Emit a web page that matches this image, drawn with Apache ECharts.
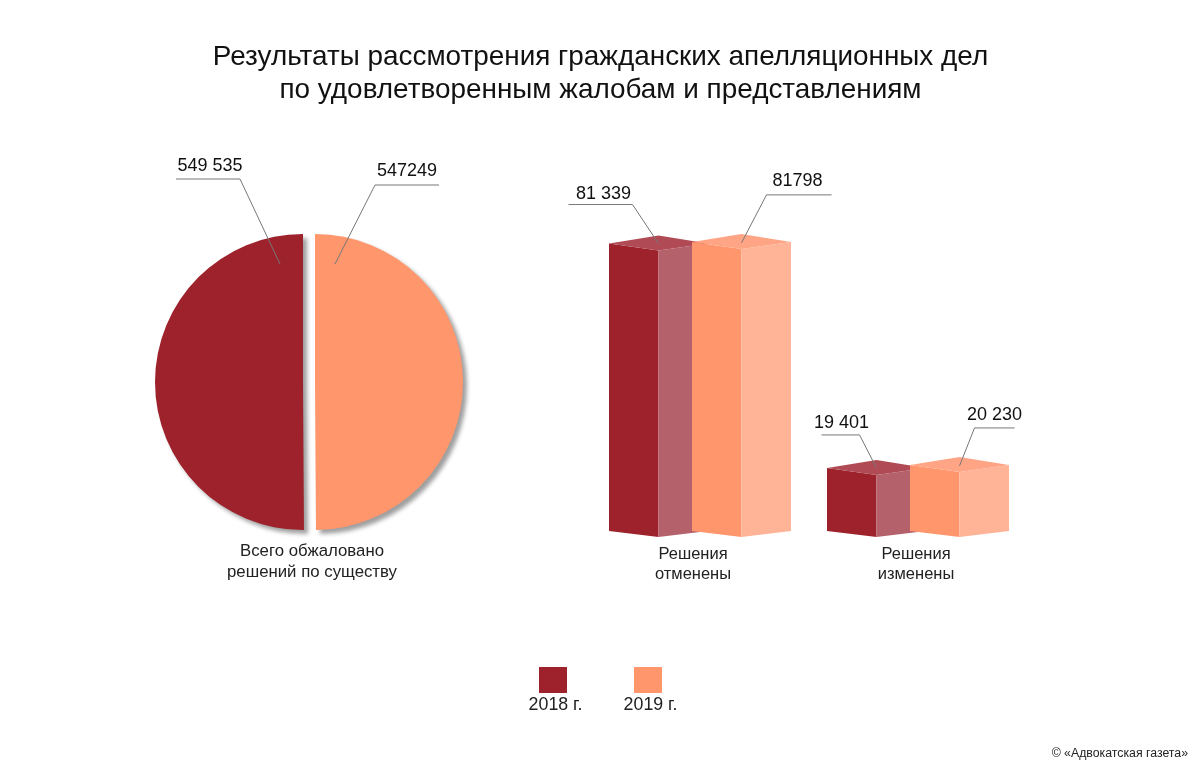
<!DOCTYPE html>
<html><head><meta charset="utf-8">
<style>html,body{margin:0;padding:0;background:#fff}#c{width:1200px;height:771px}</style>
<script src="https://cdn.jsdelivr.net/npm/echarts@6/dist/echarts.min.js"></script>
</head><body><div id="c"></div>
<script>
const seriesNames = ['2018 г.', '2019 г.'];
const pieValues = [549535, 547249];
const pieLabels = ['549 535', '547249'];
const barCategories = ['Решения\nотменены', 'Решения\nизменены'];
const bars2018 = [81339, 19401];
const bars2019 = [81798, 20230];
const barLabels2018 = ['81 339', '19 401'];
const barLabels2019 = ['81798', '20 230'];

const FONT = '"Liberation Sans", Arial, sans-serif';
const palette = [
  {front: '#9E222B', side: '#B5616B', top: '#B04A54'},
  {front: '#FF966C', side: '#FFB397', top: '#FFA585'}
];
// annotation offsets from each bar's front top corner
const leaderOffsets = [
  [{elbow: [-26, -39], tail: [-90, -39], text: [-55, -50], end: [0, 0]},
   {elbow: [-17, -33], tail: [-55, -33], text: [-35, -45], end: [0, 0]}],
  [{elbow: [25, -47], tail: [90, -47], text: [56, -61], end: [0, 1]},
   {elbow: [15, -37], tail: [55, -37], text: [35, -50], end: [0, 1]}]
];
const barLeft = [-91, -8], barW = 99, dropFront = 7, riseBack = 8, dropBase = 6;
const axisMin = 2000, axisMax = 112400;

function box(seriesIdx, labels) {
  return function (params, api) {
    const cat = api.value(0);
    const top = api.coord([cat, api.value(1)]);
    const base = api.coord([cat, axisMin]);
    const x0 = top[0] + barLeft[seriesIdx], xm = x0 + barW / 2, x1 = x0 + barW;
    const yt = top[1], yb = base[1];
    const c = palette[seriesIdx];
    const poly = (pts, fill) => ({type: 'polygon', shape: {points: pts}, style: {fill}});
    const o = leaderOffsets[seriesIdx][cat];
    const P = a => [xm + a[0], yt + a[1]];
    return {type: 'group', children: [
      poly([[x0, yt], [xm, yt + dropFront], [xm, yb + dropBase], [x0, yb]], c.front),
      poly([[xm, yt + dropFront], [x1, yt], [x1, yb], [xm, yb + dropBase]], c.side),
      poly([[x0, yt], [xm, yt - riseBack], [x1, yt], [xm, yt + dropFront]], c.top),
      {type: 'polyline', shape: {points: [P(o.end), P(o.elbow), P(o.tail)]},
       style: {stroke: '#777', lineWidth: 1, fill: 'none'}},
      {type: 'text', x: P(o.text)[0], y: P(o.text)[1],
       style: {text: labels[cat], font: '18px ' + FONT, fill: '#111', align: 'center', verticalAlign: 'middle'}}
    ]};
  };
}

const pieLabelPos = [[210, 166], [407, 171]];
const pieLeaders = [
  [[280, 264], [240, 179], [176, 179]],
  [[335, 264], [375, 185], [439, 185]]
];

const chart = echarts.init(document.getElementById('c'), null, {renderer: 'canvas'});
chart.setOption({
  backgroundColor: '#fff',
  animation: false,
  title: [
    {text: 'Результаты рассмотрения гражданских апелляционных дел\nпо удовлетворенным жалобам и представлениям',
     left: 595.5, top: 36, textAlign: 'center',
     textStyle: {fontFamily: FONT, fontSize: 27.9, fontWeight: 'normal', color: '#111', lineHeight: 33}},
    {text: 'Всего обжаловано\nрешений по существу', left: 307, top: 536, textAlign: 'center',
     textStyle: {fontFamily: FONT, fontSize: 16.8, fontWeight: 'normal', color: '#222', lineHeight: 21}},
    {text: '© «Адвокатская газета»', left: 1183, top: 743, textAlign: 'right',
     textStyle: {fontFamily: FONT, fontSize: 12.3, fontWeight: 'normal', color: '#222'}}
  ],
  legend: {
    left: 534, top: 662, itemWidth: 28, itemHeight: 26, itemGap: 67, icon: 'rect',
    selectedMode: false, data: seriesNames, formatter: () => '',
    textStyle: {fontSize: 1}
  },
  grid: {left: 591, width: 436, top: 131, height: 400},
  xAxis: {
    type: 'category',
    data: [
      {value: barCategories[0], textStyle: {padding: [0, 14, 0, 0]}},
      {value: barCategories[1], textStyle: {padding: [0, 4, 0, 0]}}
    ],
    axisLine: {show: false}, axisTick: {show: false},
    axisLabel: {interval: 0, margin: 13, fontFamily: FONT, fontSize: 16.5, color: '#222', lineHeight: 20.5}
  },
  yAxis: {type: 'value', min: axisMin, max: axisMax, show: false, splitLine: {show: false}},
  series: [
    {type: 'pie', center: [309, 382], radius: [0, 148], startAngle: 90, clockwise: false,
     selectedMode: 'multiple', selectedOffset: 6,
     itemStyle: {shadowColor: 'rgba(0,0,0,0.38)', shadowBlur: 4, shadowOffsetX: 4, shadowOffsetY: 4},
     emphasis: {disabled: true},
     label: {show: false},
     labelLine: {show: false},
     data: pieValues.map((v, i) => ({name: seriesNames[i], value: v, selected: true,
       itemStyle: {color: palette[i].front}}))
    },
    {type: 'custom', name: seriesNames[0], itemStyle: {color: palette[0].front}, clip: false,
     renderItem: box(0, barLabels2018), encode: {x: 0, y: 1},
     data: bars2018.map((v, i) => [i, v])},
    {type: 'custom', name: seriesNames[1], itemStyle: {color: palette[1].front}, clip: false,
     renderItem: box(1, barLabels2019), encode: {x: 0, y: 1},
     data: bars2019.map((v, i) => [i, v])}
  ],
  graphic: {elements: [
    ...pieLeaders.map(pts => ({type: 'polyline', z: 10, shape: {points: pts},
      style: {stroke: '#777', lineWidth: 1, fill: 'none'}, silent: true})),
    ...pieLabels.map((t, i) => ({type: 'text', z: 10, x: pieLabelPos[i][0], y: pieLabelPos[i][1],
      style: {text: t, font: '18px ' + FONT, fill: '#111', align: 'center', verticalAlign: 'middle'}})),
    ...seriesNames.map((n, i) => ({type: 'text', z: 10, x: 555.5 + i * 95, y: 705,
      style: {text: n, font: '17.8px ' + FONT, fill: '#222', align: 'center', verticalAlign: 'middle'}}))
  ]}
});
</script></body></html>
